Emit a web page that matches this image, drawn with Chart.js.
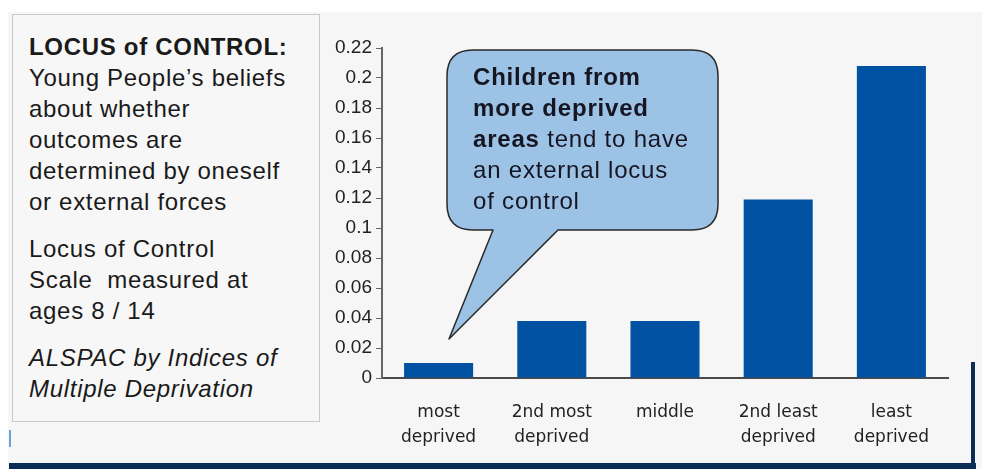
<!DOCTYPE html>
<html lang="en">
<head>
    <meta charset="UTF-8">
    <title>Locus of Control by Deprivation</title>
    <style>
        html, body {
            margin: 0;
            padding: 0;
            width: 982px;
            height: 471px;
            background-color: #ffffff;
            overflow: hidden;
            font-family: "Liberation Sans", Arial, sans-serif;
        }
        .slide {
            position: absolute;
            left: 8px;
            top: 12px;
            width: 974px;
            height: 457px;
            background-color: #f6f6f6;
        }
        .info-box {
            position: absolute;
            left: 12px;
            top: 14px;
            width: 290px;
            height: 390px;
            padding: 16px 0 0 16px;
            border: 1px solid #c9c9c9;
            background-color: #f7f7f7;
            color: #1a1a1a;
            font-size: 24px;
            line-height: 31px;
            letter-spacing: 0.7px;
        }
        .info-box p {
            margin: 0;
        }
        .info-box .gap {
            margin-top: 16px;
        }
        canvas {
            position: absolute;
            left: 0;
            top: 0;
        }
        .bubble {
            position: absolute;
            left: 0;
            top: 0;
        }
        .bubble-text {
            position: absolute;
            left: 473px;
            top: 61px;
            font-size: 24px;
            line-height: 31px;
            letter-spacing: 0.8px;
            color: #161622;
        }
        .navy-bottom {
            position: absolute;
            left: 9px;
            top: 463px;
            width: 967px;
            height: 6px;
            background-color: #0b2c57;
        }
        .navy-right {
            position: absolute;
            left: 971px;
            top: 362px;
            width: 4px;
            height: 107px;
            background-color: #0b2c57;
        }
        .blue-tick {
            position: absolute;
            left: 9px;
            top: 430px;
            width: 2px;
            height: 17px;
            background-color: #6aa3d8;
        }
    </style>
    <script src="https://cdn.jsdelivr.net/npm/chart.js"></script>
</head>
<body>

<div class="slide"></div>

<div class="info-box">
    <p><b>LOCUS of CONTROL:</b><br>
    Young People’s beliefs<br>
    about whether<br>
    outcomes are<br>
    determined by oneself<br>
    or external forces</p>
    <p class="gap">Locus of Control<br>
    Scale&nbsp; measured at<br>
    ages 8 / 14</p>
    <p class="gap"><i>ALSPAC by Indices of<br>
    Multiple Deprivation</i></p>
</div>

<canvas id="chart" width="982" height="471"></canvas>

<svg class="bubble" width="982" height="471">
    <path d="M473,50 L692,50 Q718,50 718,76 L718,204 Q718,230 692,230 L558,230 L449,339 L493,230 L473,230 Q447,230 447,204 L447,76 Q447,50 473,50 Z"
          fill="#9cc2e6" stroke="#2a2a2a" stroke-width="1.5" stroke-linejoin="round"/>
</svg>
<div class="bubble-text">
    <b>Children from</b><br>
    <b>more deprived</b><br>
    <b>areas</b> tend to have<br>
    an external locus<br>
    of control
</div>

<div class="blue-tick"></div>
<div class="navy-bottom"></div>
<div class="navy-right"></div>

<script>
// Chart data
const categories = [
    ['most', 'deprived'],
    ['2nd most', 'deprived'],
    ['middle', ''],
    ['2nd least', 'deprived'],
    ['least', 'deprived']
];
const locusValues = [0.01, 0.038, 0.038, 0.119, 0.208];
const yTickLabels = ['0', '0.02', '0.04', '0.06', '0.08', '0.1', '0.12', '0.14', '0.16', '0.18', '0.2', '0.22'];

const ctx = document.getElementById('chart').getContext('2d');

window.locusChart = new Chart(ctx, {
    type: 'bar',
    data: {
        labels: categories,
        datasets: [{
            label: 'Locus of control',
            data: locusValues,
            backgroundColor: '#0152a3',
            borderWidth: 0,
            barPercentage: 0.61,
            categoryPercentage: 1
        }]
    },
    options: {
        responsive: false,
        animation: false,
        layout: {
            padding: { left: 322, top: 48, right: 34, bottom: 0 }
        },
        plugins: {
            legend: { display: false },
            tooltip: { enabled: false }
        },
        scales: {
            x: {
                grid: { display: false, drawTicks: false },
                border: { display: true, color: '#4a4a4a', width: 2 },
                ticks: {
                    color: '#222',
                    padding: 22,
                    maxRotation: 0,
                    autoSkip: false,
                    font: { family: 'DejaVu Sans', size: 17, lineHeight: '25px' }
                },
                afterFit: function (scale) { scale.height = 93; }
            },
            y: {
                min: 0,
                max: 0.22,
                ticks: {
                    stepSize: 0.02,
                    color: '#222',
                    padding: 4,
                    font: { family: 'Liberation Sans', size: 19 },
                    callback: function (value, index) { return yTickLabels[index]; }
                },
                grid: {
                    drawOnChartArea: false,
                    drawTicks: true,
                    tickLength: 6,
                    color: '#666'
                },
                border: { display: true, color: '#666', width: 2 },
                afterFit: function (scale) { scale.width = 60; }
            }
        }
    }
});
</script>

</body>
</html>
